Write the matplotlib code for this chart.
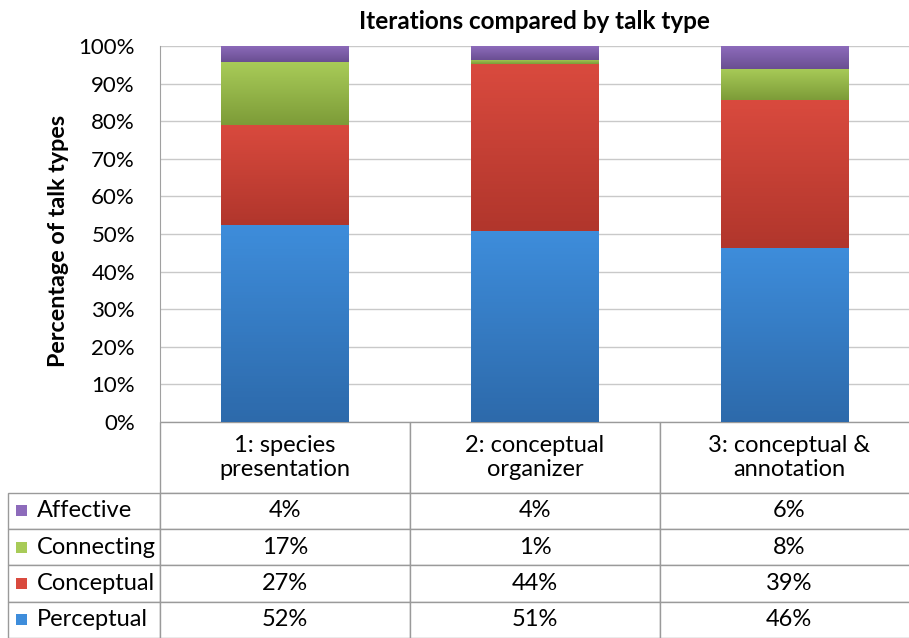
#!/usr/bin/env python3
"""Stacked percentage bars of talk types per iteration, with an Excel-style data table below."""

import numpy as np
import matplotlib
matplotlib.use("Agg")
import matplotlib.pyplot as plt
from matplotlib.colors import LinearSegmentedColormap
from matplotlib.patches import Rectangle
from matplotlib.table import Table

# ---------------------------------------------------------------------------
# Data (percent of talk per iteration)
# ---------------------------------------------------------------------------
categories = ["1: species\npresentation", "2: conceptual\norganizer", "3: conceptual &\nannotation"]
perceptual = [52.4, 50.8, 46.4]
conceptual = [26.6, 44.3, 39.2]
connecting = [16.7, 1.2, 8.3]
affective = [4.3, 3.7, 6.1]

series_names = ["Perceptual", "Conceptual", "Connecting", "Affective"]  # bottom -> top
series_values = [perceptual, conceptual, connecting, affective]
# (top colour, bottom colour) of each segment's gradient
series_colors = [("#3e8ddb", "#2d6aab"),
                 ("#d94a3e", "#b1362c"),
                 ("#a8cb58", "#7d9c38"),
                 ("#8d6bbb", "#6a4f92")]
yticks = [0, 10, 20, 30, 40, 50, 60, 70, 80, 90, 100]

plt.rcParams["font.family"] = ["Lato", "DejaVu Sans"]

fig = plt.figure(figsize=(9.09, 6.38), dpi=100)
ax = fig.add_axes([160 / 909, 1 - 422 / 638, 749 / 909, 376 / 638])

x = np.arange(len(categories))
bottom = np.zeros(len(categories))
bar_groups = []
for vals, (c_top, c_bot) in zip(series_values, series_colors):
    bars = ax.bar(x, vals, width=0.51, bottom=bottom, color=c_bot, zorder=2)
    bar_groups.append((bars, c_top, c_bot))
    bottom += np.array(vals)

# vertical gradient inside each segment
grad = np.linspace(0, 1, 64).reshape(-1, 1)
for bars, c_top, c_bot in bar_groups:
    cmap = LinearSegmentedColormap.from_list("seg", [c_bot, c_top])
    for patch in bars:
        x0, y0 = patch.get_xy()
        ax.imshow(grad, cmap=cmap, origin="lower", aspect="auto", zorder=2.5,
                  extent=[x0, x0 + patch.get_width(), y0, y0 + patch.get_height()])

ax.set_xlim(-0.5, len(categories) - 0.5)
ax.set_ylim(0, 100)
ax.set_yticks(yticks)
ax.set_yticklabels([f"{t}%" for t in yticks], fontsize=16)
ax.tick_params(axis="y", length=0, pad=18)
ax.set_xticks([])
ax.grid(axis="y", color="#c9c9c9", lw=1, zorder=0)
for side in ("top", "right", "bottom"):
    ax.spines[side].set_visible(False)
ax.spines["left"].set_color("#a0a0a0")

ax.set_title("Iterations compared by talk type", fontsize=17.5, fontweight="bold", pad=12)
ax.set_ylabel("Percentage of talk types", fontsize=16.8, fontweight="bold")
ax.yaxis.set_label_coords(-0.122, 0.482)

# ---------------------------------------------------------------------------
# Data table under the plot
# ---------------------------------------------------------------------------
row_names = series_names[::-1]
row_values = series_values[::-1]
row_colors = [c for c, _ in series_colors[::-1]]

label_w, row_h = 152, 36
col_w = [250, 250, 258]  # last column runs off the right edge, as in the original
tbl = Table(ax, bbox=[-152 / 749, -216 / 376, (label_w + sum(col_w)) / 749, 216 / 376])
for j, cat in enumerate(categories):
    tbl.add_cell(0, j + 1, col_w[j], row_h * 1.95, text=cat, loc="center")
for i, (name, vals) in enumerate(zip(row_names, row_values), start=1):
    lab = tbl.add_cell(i, 0, label_w, row_h, text=name, loc="left")
    lab.PAD = 0.19
    for j, v in enumerate(vals):
        tbl.add_cell(i, j + 1, col_w[j], row_h, text=f"{v:.0f}%", loc="center")
tbl.auto_set_font_size(False)
tbl.set_fontsize(17)
for cell in tbl.get_celld().values():
    cell.set_edgecolor("#9a9a9a")
    cell.set_linewidth(1)
ax.add_table(tbl)

fig.canvas.draw()
for r, col in enumerate(row_colors, start=1):
    cell = tbl[r, 0]
    cy = cell.get_y() + cell.get_height() / 2
    ax.add_patch(Rectangle((cell.get_x() + 8 / 749, cy - 5.5 / 376), 11 / 749, 11 / 376,
                           transform=ax.transAxes, facecolor=col, edgecolor="none",
                           clip_on=False, zorder=5))

fig.savefig("out.png", dpi=100)
